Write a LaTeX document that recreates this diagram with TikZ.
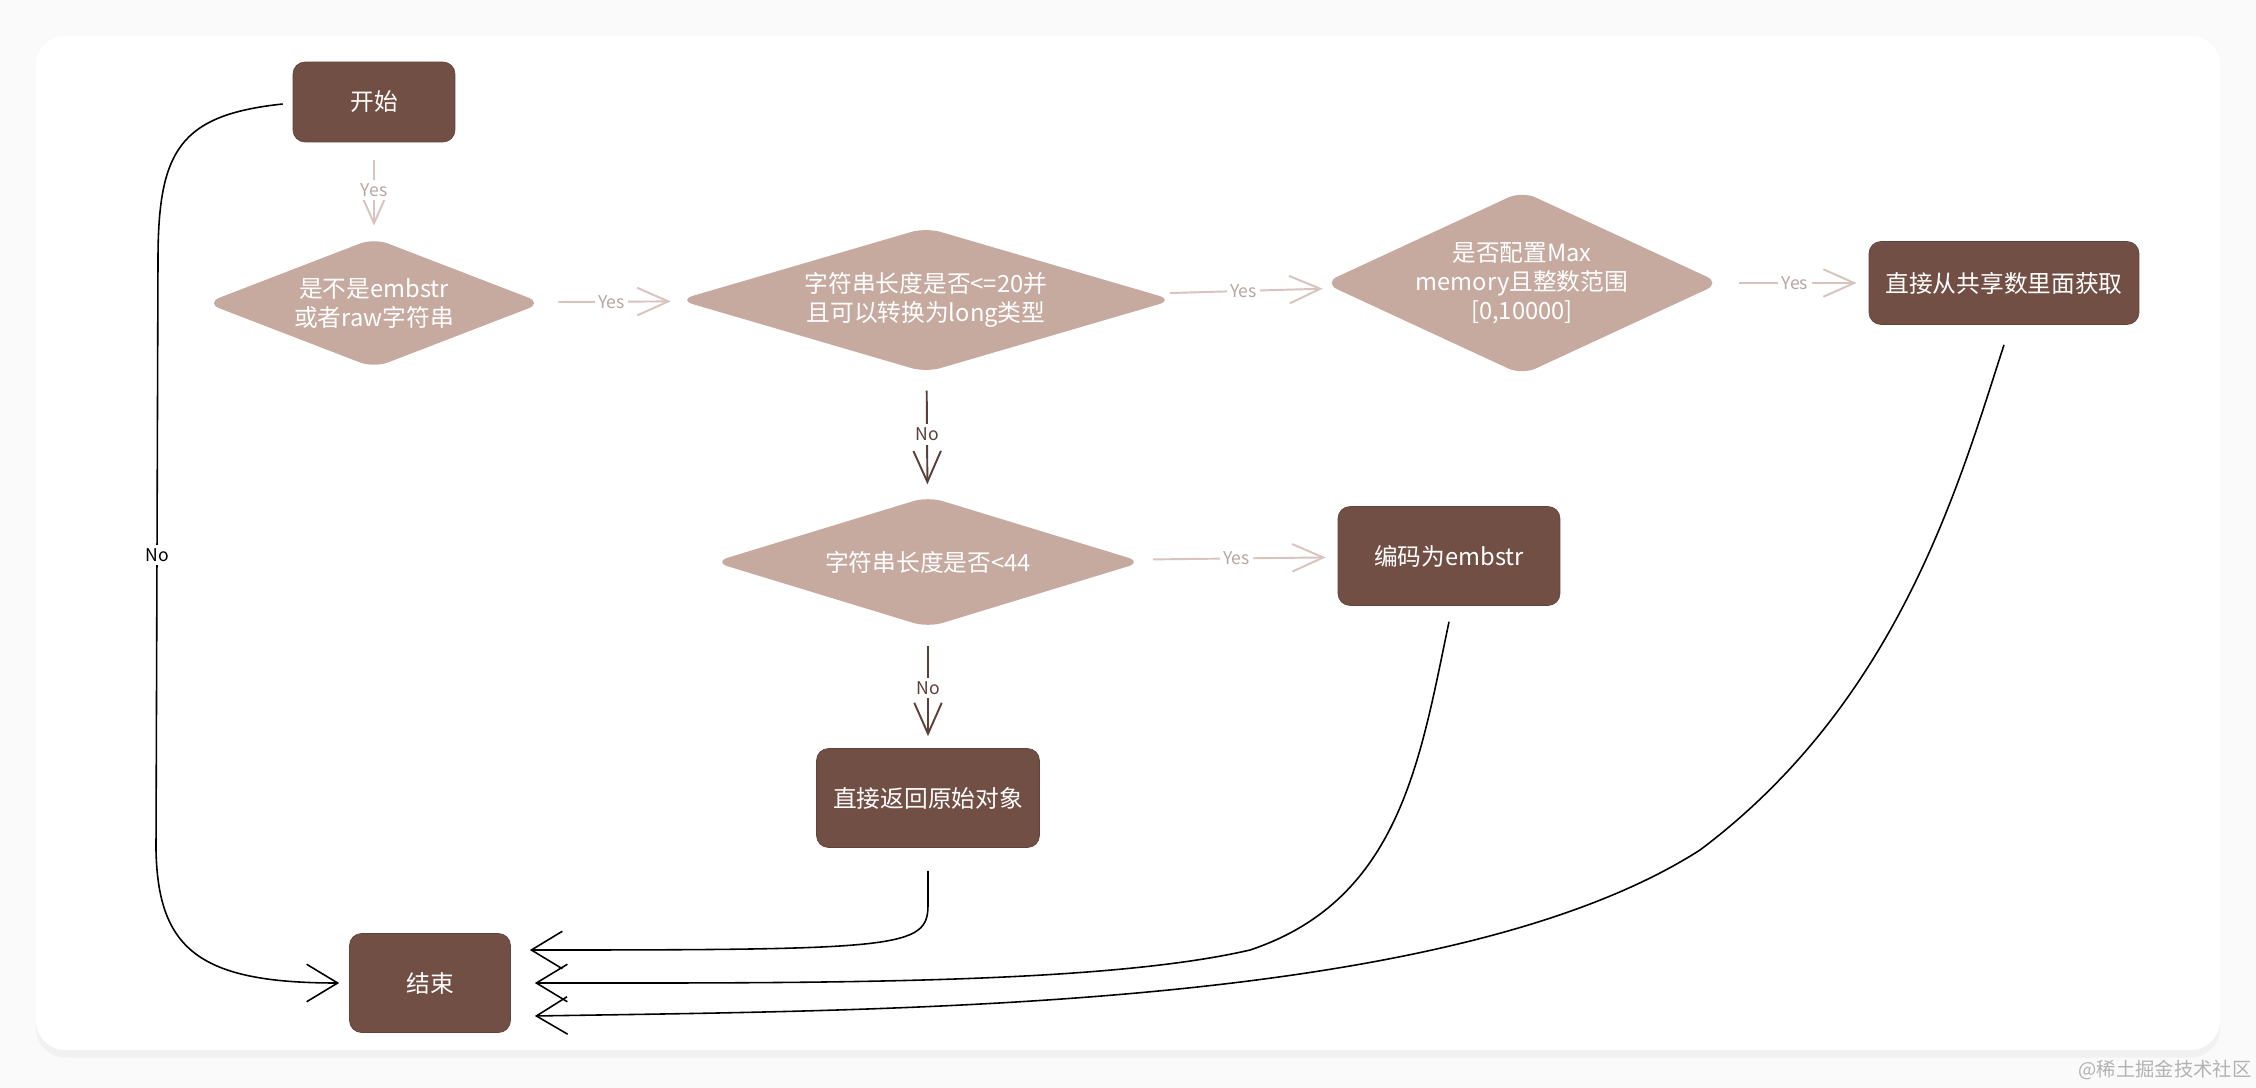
\documentclass[tikz,border=0pt]{standalone}
\usepackage{fontspec}
\usetikzlibrary{arrows.meta,positioning,shapes.geometric,shadows}
\newfontfamily\cjk{Noto Sans CJK SC}
\definecolor{cocoa}{HTML}{714F45}
\definecolor{rosy}{HTML}{C6AAA0}
\definecolor{blush}{HTML}{D8C3BE}
\definecolor{umber}{HTML}{5B4039}
\begin{document}
\begin{tikzpicture}[x=.02cm,y=-.02cm,font=\cjk\fontsize{13.5}{16.5}\selectfont,
 term/.style={draw=cocoa!85!black,fill=cocoa,text=white,rounded corners=.24cm,align=center,inner sep=0pt},
 cond/.style={diamond,fill=rosy,text=white,rounded corners=.3cm,align=center,inner sep=0pt},
 pa/.style={draw=blush,line width=1.1pt,-{Straight Barb[length=.62cm,width=.55cm]},shorten <=.36cm,shorten >=.24cm},
 na/.style={pa,draw=umber},
 ba/.style={draw=black,line width=.9pt,-{Straight Barb[length=.62cm,width=.75cm]}},
 lab/.style={fill=white,inner sep=2pt,font=\cjk\fontsize{10}{12}\selectfont}]
\useasboundingbox (0,0) rectangle (2256,1088);
\fill[gray!4] (0,0) rectangle (2256,1088);
\fill[white,rounded corners=.58cm,drop shadow={opacity=.07,shadow xshift=0cm,shadow yshift=-.15cm}] (36,36) rectangle (2220,1050);
% nodes
\node[term,minimum width=3.24cm,minimum height=1.6cm] (start) at (374,102) {开始};
\node[cond,aspect=2.6,minimum width=6.74cm,minimum height=2.6cm] (d1) at (374,303) {是不是embstr\\或者raw字符串};
\node[cond,aspect=3.4,minimum width=9.9cm,minimum height=2.9cm] (d2) at (926,300) {字符串长度是否<=20并\\且可以转换为long类型};
\node[cond,aspect=2.16,minimum width=7.94cm,minimum height=3.68cm] (d3) at (1522,283) {是否配置Max\\memory且整数范围\\{[0,10000]}};
\node[term,minimum width=5.4cm,minimum height=1.66cm] (share) at (2004,283) {直接从共享数里面获取};
\node[cond,aspect=3.3,minimum width=8.58cm,minimum height=2.62cm] (d4) at (928,562) {字符串长度是否<44};
\node[term,minimum width=4.44cm,minimum height=1.98cm] (enc) at (1449,556) {编码为embstr};
\node[term,minimum width=4.46cm,minimum height=1.98cm] (ret) at (928,798) {直接返回原始对象};
\node[term,minimum width=3.22cm,minimum height=1.98cm] (end) at (430,983) {结束};
% yes / no
\draw[pa] (start) -- node[lab,text=blush!85!black] {Yes} (d1);
\draw[pa] (d1) -- node[lab,text=blush!85!black] {Yes} (d2);
\draw[pa] (d2) -- node[lab,text=blush!85!black] {Yes} (d3);
\draw[pa] (d3) -- node[lab,text=blush!85!black] {Yes} (share);
\draw[pa] (d4) -- node[lab,text=blush!85!black] {Yes} (enc);
\draw[na] (d2) -- node[lab,text=umber] {No} (d4);
\draw[na] (d4) -- node[lab,text=umber] {No} (ret);
% back to end
\draw[ba] ([xshift=-.2cm,yshift=-.04cm]start.west) .. controls (180,115) and (158,150) .. (158,260)
 -- node[lab,text=black] {No} (156,850) .. controls (158,950) and (200,983) .. ([xshift=-.2cm]end.west);
\draw[ba] ([yshift=-.46cm]ret.south) -- (928,905) .. controls (928,948) and (900,950) .. ([xshift=.38cm,yshift=.66cm]end.east);
\draw[ba] ([yshift=-.32cm]enc.south) .. controls (1420,760) and (1400,900) .. (1250,950)
 .. controls (1100,985) and (800,983) .. ([xshift=.48cm]end.east);
\draw[ba] ([yshift=-.4cm]share.south) .. controls (1960,480) and (1900,700) .. (1700,850)
 .. controls (1450,1010) and (900,1010) .. ([xshift=.48cm,yshift=-.66cm]end.east);
\node[text=gray!60,font=\cjk\fontsize{11}{13}\selectfont] (mark) at (2165,1070) {@稀土掘金技术社区};
\end{tikzpicture}
\end{document}
